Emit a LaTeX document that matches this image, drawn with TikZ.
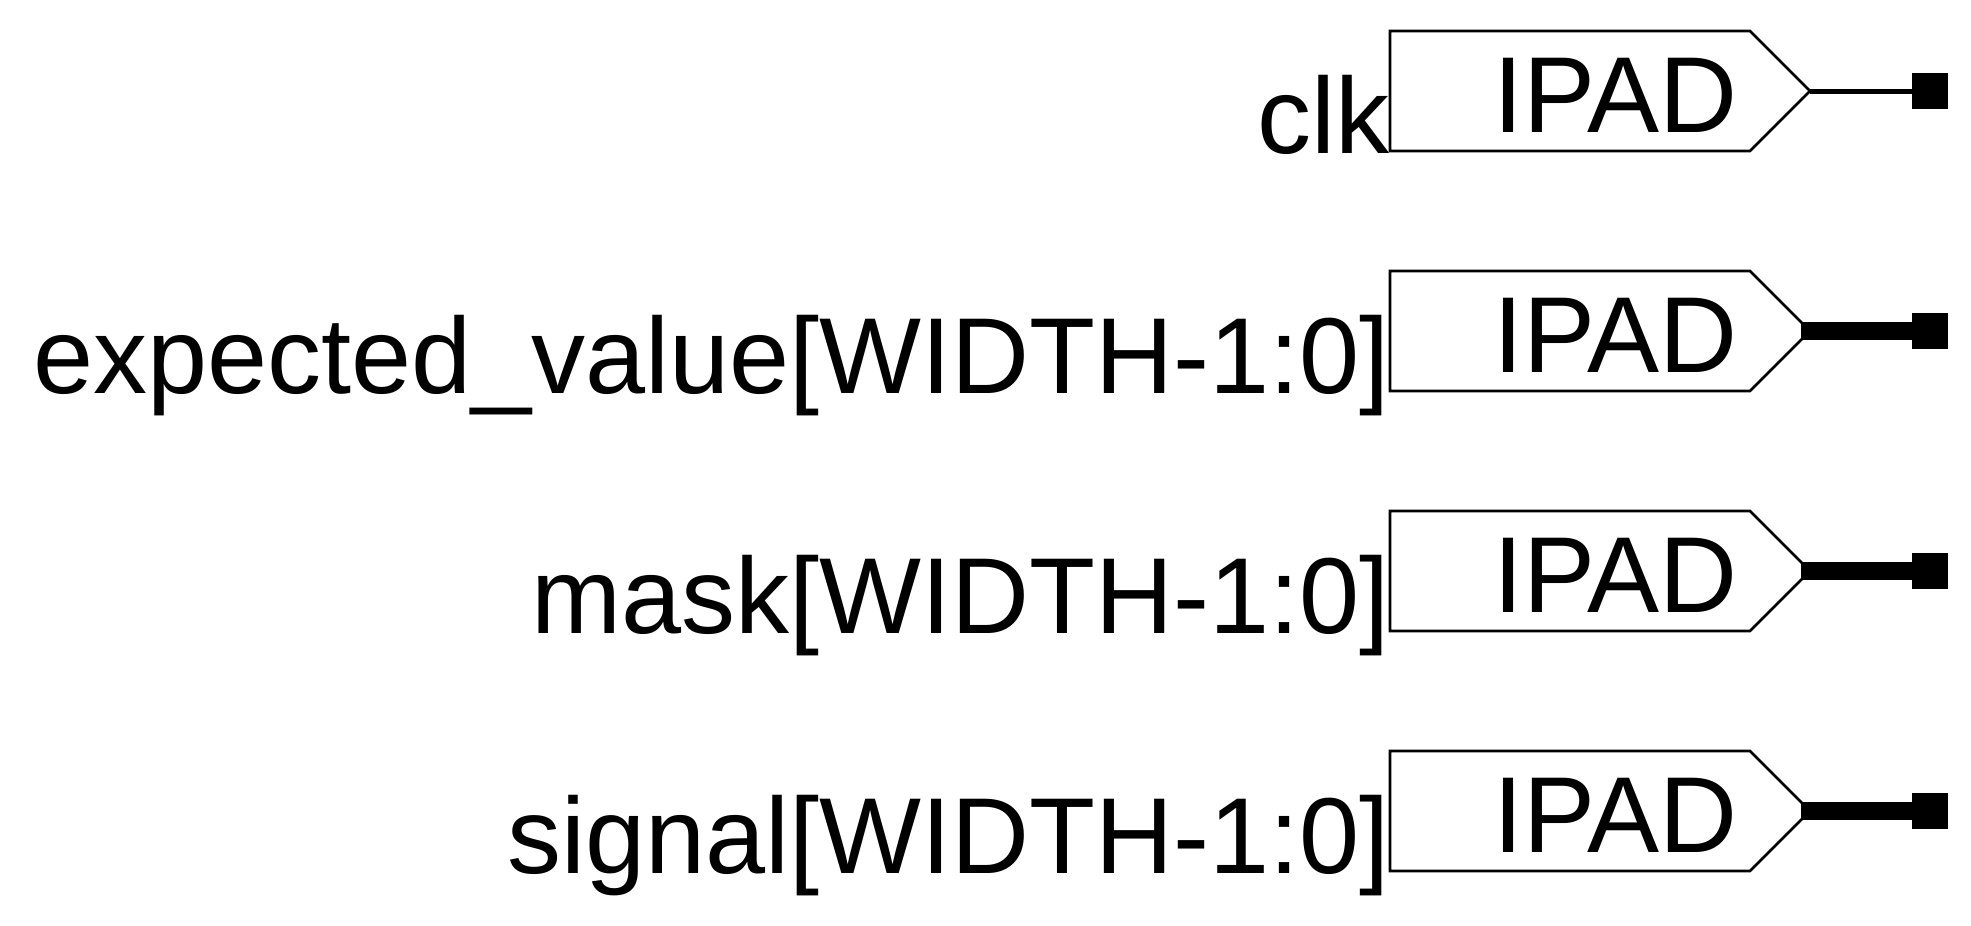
\documentclass[tikz,border=0pt]{standalone}
\usepackage{fontspec}
\setmainfont{Liberation Sans}

\begin{document}
\begin{tikzpicture}[x=0.5pt, y=-0.5pt,
	pad/.style={draw, line width=1.35pt, line join=miter, fill=white},
	lbl/.style={font=\fontsize{54}{60}\selectfont, inner sep=0pt, anchor=base east},
	padtxt/.style={font=\fontsize{54}{60}\selectfont, inner sep=0pt, anchor=base west},
	pin/.style={fill=black, inner sep=0pt, minimum size=18pt},
	wire/.style={line width=2.5pt},
	bus/.style={line width=9pt}]
	\useasboundingbox (0,0) rectangle (1971,926);
	% clk
	\draw[pad] (1390,31) -- (1750,31) -- (1810,91) coordinate (tclk) -- (1750,151) -- (1390,151) -- cycle;
	\node[padtxt] (pclk) at (1493,132) {IPAD};
	\node[lbl] (lclk) at (1390,153) {clk};
	\node[pin] (sclk) at (1930,91) {};
	\draw[wire] (tclk) -- (sclk.west);
	% expected_value
	\draw[pad] (1390,271) -- (1750,271) -- (1810,331) -- (1750,391) -- (1390,391) -- cycle;
	\coordinate (texp) at (1801,331);
	\node[padtxt] (pexp) at (1493,372) {IPAD};
	\node[lbl] (lexp) at (1390,393) {expected\_value[WIDTH-1:0]};
	\node[pin] (sexp) at (1930,331) {};
	\draw[bus] (texp) -- (sexp.west);
	% mask
	\draw[pad] (1390,511) -- (1750,511) -- (1810,571) -- (1750,631) -- (1390,631) -- cycle;
	\coordinate (tmask) at (1801,571);
	\node[padtxt] (pmask) at (1493,612) {IPAD};
	\node[lbl] (lmask) at (1390,633) {mask[WIDTH-1:0]};
	\node[pin] (smask) at (1930,571) {};
	\draw[bus] (tmask) -- (smask.west);
	% signal
	\draw[pad] (1390,751) -- (1750,751) -- (1810,811) -- (1750,871) -- (1390,871) -- cycle;
	\coordinate (tsig) at (1801,811);
	\node[padtxt] (psig) at (1493,852) {IPAD};
	\node[lbl] (lsig) at (1390,873) {signal[WIDTH-1:0]};
	\node[pin] (ssig) at (1930,811) {};
	\draw[bus] (tsig) -- (ssig.west);
\end{tikzpicture}
\end{document}
